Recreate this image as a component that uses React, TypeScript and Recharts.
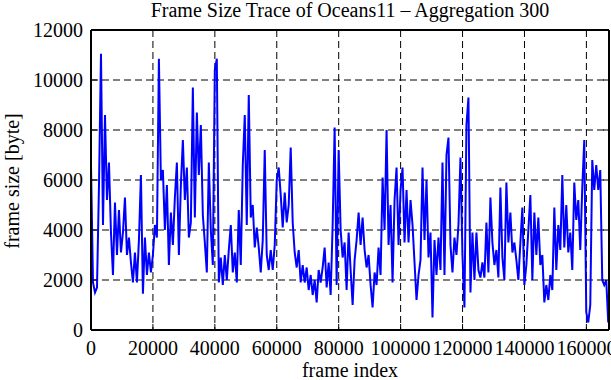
import { LineChart, Line, XAxis, YAxis, CartesianGrid } from 'recharts'

// page has the default 8px body margin; the chart is drawn edge to edge
document.body.style.margin = '0'
document.body.style.background = '#fff'

const FONT = '"Liberation Serif", "Times New Roman", serif'
const TRACE = '#0000ff'

// one sample every ~645 frames (about 2px of the plot)
const FRAME_STEP = 645
const X_MAX = 167300

// frame size [byte]
const FRAME_SIZES = [
  6600, 1900, 1500, 1700, 5800, 11050, 4200, 8600, 5200, 6700,
  3900, 2200, 5100, 3000, 4800, 3100, 3900, 5300, 3000, 3700,
  2700, 1900, 3100, 1900, 3600, 6200, 1450, 3700, 2200, 3100,
  2300, 3000, 4200, 3700, 10850, 6000, 6400, 4000, 5800, 2600,
  4700, 3400, 5300, 6700, 3000, 5800, 7600, 5200, 6500, 3700,
  4300, 9700, 4500, 8700, 6200, 8200, 4600, 3500, 2300, 6700,
  4000, 2600, 10400, 10850, 1900, 2900, 1800, 3000, 2000, 3200,
  4200, 2300, 3100, 1900, 4800, 2600, 6600, 8600, 4200, 9400,
  4500, 5000, 3300, 4100, 3300, 2300, 3600, 7200, 3000, 2400,
  3200, 2400, 3400, 6000, 6500, 5400, 4100, 5500, 4300, 5000,
  7300, 4300, 3100, 2500, 3200, 1900, 2600, 1900, 2500, 1600,
  2200, 1400, 2000, 1100, 2400, 1900, 2500, 3300, 1700, 2700,
  1400, 4200, 8100, 1800, 7200, 4000, 2900, 3500, 1600, 3900,
  2400, 1000, 2800, 3600, 4700, 3400, 4500, 3200, 2500, 3000,
  1800, 900, 2300, 1800, 3300, 2200, 6100, 4000, 8000, 3400,
  5000, 1900, 5200, 6500, 3400, 5600, 6500, 3500, 5600, 3500,
  5200, 4200, 2700, 1200, 2200, 2800, 6500, 3600, 6000, 2900,
  3900, 500, 3600, 2200, 3700, 2400, 6700, 2200, 7000, 7700,
  3400, 2300, 3700, 3000, 4200, 6900, 3000, 900, 8200, 9300,
  1500, 3900, 2000, 3900, 2400, 2100, 2700, 2100, 4300, 2300,
  5300, 3500, 2600, 3200, 2100, 5700, 2900, 2000, 5900, 3500,
  4700, 3100, 3500, 2800, 2000, 3500, 4900, 1800, 2600, 4000,
  5400, 2000, 4700, 3000, 4500, 2600, 3000, 1100, 1800, 1200,
  2200, 1600, 4900, 2400, 4200, 3200, 6200, 3300, 5000, 3100,
  3900, 2400, 5900, 4400, 5200, 3200, 5700, 7600, 700, 300,
  1000, 6800, 5600, 6600, 5600, 6400, 2000, 1800, 2000, 300,
]

const X_TICKS = [0, 20000, 40000, 60000, 80000, 100000, 120000, 140000, 160000]
const Y_TICKS = [0, 2000, 4000, 6000, 8000, 10000, 12000]

const TITLE = 'Frame Size Trace of Oceans11 \u2013 Aggregation 300'
const X_LABEL = 'frame index'
const Y_LABEL = 'frame size [byte]'

const data = FRAME_SIZES.map((size, i) => ({ frame: i * FRAME_STEP, size }))

const TICK_LEN = 6
const frameLine = { stroke: '#000', strokeWidth: 2 }
const textStyle = { fontFamily: FONT, fontSize: 20, fill: '#000' }

// gnuplot style: ticks point into the plot, labels sit outside
function BottomTick(p: any) {
  return (
    <g>
      <line x1={p.x} y1={p.y} x2={p.x} y2={p.y - TICK_LEN} stroke="#000" strokeWidth={1} />
      <text x={p.x} y={p.y + 25} textAnchor="middle" style={textStyle}>
        {p.payload.value}
      </text>
    </g>
  )
}

function TopTick(p: any) {
  return <line x1={p.x} y1={30} x2={p.x} y2={30 + TICK_LEN} stroke="#000" strokeWidth={1} />
}

function LeftTick(p: any) {
  return (
    <g>
      <line x1={p.x} y1={p.y} x2={p.x + TICK_LEN} y2={p.y} stroke="#000" strokeWidth={1} />
      <text x={p.x - 8} y={p.y + 7} textAnchor="end" style={textStyle}>
        {p.payload.value}
      </text>
    </g>
  )
}

function RightTick(p: any) {
  return <line x1={609} y1={p.y} x2={609 - TICK_LEN} y2={p.y} stroke="#000" strokeWidth={1} />
}

const renderTitle = () => (
  <text x={350} y={17} textAnchor="middle" style={textStyle}>
    {TITLE}
  </text>
)

const renderXLabel = () => (
  <text x={350} y={377} textAnchor="middle" style={textStyle}>
    {X_LABEL}
  </text>
)

const renderYLabel = () => (
  <text x={19} y={181} transform="rotate(-90 19 181)" textAnchor="middle" style={textStyle}>
    {Y_LABEL}
  </text>
)

export default function App() {
  return (
    <LineChart width={611} height={380} data={data} margin={{ top: 29, right: 1, bottom: 0, left: 0 }}>
      <CartesianGrid stroke="#000" strokeDasharray="7 4" strokeWidth={1} />
      <XAxis
        dataKey="frame"
        type="number"
        domain={[0, X_MAX]}
        ticks={X_TICKS}
        interval={0}
        allowDataOverflow
        height={50}
        tickSize={0}
        tickMargin={0}
        axisLine={frameLine}
        tick={BottomTick}
        label={renderXLabel}
      />
      <XAxis
        xAxisId="top"
        orientation="top"
        type="number"
        domain={[0, X_MAX]}
        ticks={X_TICKS}
        interval={0}
        allowDataOverflow
        height={1}
        tickSize={0}
        tickMargin={0}
        axisLine={frameLine}
        tick={TopTick}
        label={renderTitle}
      />
      <YAxis
        type="number"
        domain={[0, 12000]}
        ticks={Y_TICKS}
        interval={0}
        allowDataOverflow
        width={91}
        tickSize={0}
        tickMargin={0}
        axisLine={frameLine}
        tick={LeftTick}
        label={renderYLabel}
      />
      <YAxis
        yAxisId="right"
        orientation="right"
        type="number"
        domain={[0, 12000]}
        ticks={Y_TICKS}
        interval={0}
        allowDataOverflow
        width={1}
        tickSize={0}
        tickMargin={0}
        axisLine={frameLine}
        tick={RightTick}
      />
      <Line
        type="linear"
        dataKey="size"
        stroke={TRACE}
        strokeWidth={2}
        dot={false}
        isAnimationActive={false}
      />
    </LineChart>
  )
}
